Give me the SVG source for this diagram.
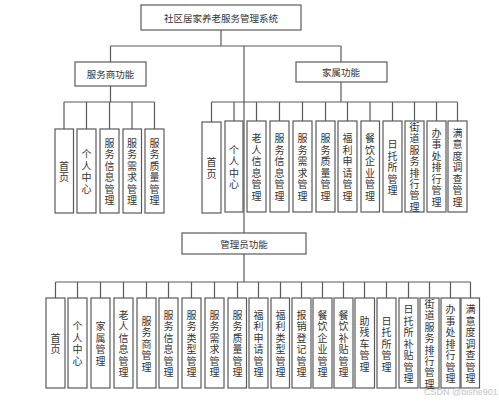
<svg xmlns="http://www.w3.org/2000/svg" width="499" height="401" viewBox="0 0 499 401">
<style>
.bg{fill:#fff}
.box{fill:#fff;stroke:#5a5a5a;stroke-width:1.2}
.ln{fill:none;stroke:#5a5a5a;stroke-width:1.2}
.h{font-family:"Noto Sans CJK SC","Liberation Sans",sans-serif;font-size:9.5px;fill:#333;text-anchor:middle;dominant-baseline:central}
.v{font-family:"Noto Sans CJK SC","Liberation Sans",sans-serif;font-size:10px;fill:#333;text-anchor:middle;dominant-baseline:central}
.wm{font-family:"Liberation Sans",sans-serif;font-size:9px;fill:#c4c4c4}
</style>
<rect class="bg" x="0" y="0" width="499" height="401"/>
<g id="connectors">
<path class="ln" d="M221 30V46M110.5 46H341M110.5 46V62M341 46V62M244 46V233"/>
<path class="ln" d="M110.5 86V102M64 102H154.5M64 102V129M86.5 102V129M109.5 102V129M132 102V129M154.5 102V129"/>
<path class="ln" d="M341 82V102M211.5 102H457.5M211.5 102V122M234 102V121M256.5 102V121M279.5 102V121M302.5 102V121M325.5 102V121M347.5 102V121M370 102V121M392.5 102V121M414.5 102V121M436.5 102V121M457.5 102V121"/>
<path class="ln" d="M244 254V282M55.5 282H470.5M55.5 282V298M77.5 282V298M100.5 282V298M123.5 282V298M146.5 282V298M168.5 282V298M191.5 282V298M214.5 282V298M237.5 282V298M258.5 282V298M280.5 282V298M301.5 282V298M322.5 282V298M343.5 282V298M364.5 282V298M386.5 282V298M408.5 282V298M429.5 282V298M450.5 282V298M470.5 282V298"/>
</g>
<g id="root"><rect class="box" x="141" y="5" width="160" height="25"/><text class="h" x="221" y="17.5">社区居家养老服务管理系统</text></g>
<g id="provider"><rect class="box" x="75" y="62" width="71" height="24"/><text class="h" x="110.5" y="74">服务商功能</text></g>
<g id="family"><rect class="box" x="296" y="62" width="91" height="20"/><text class="h" x="341" y="72">家属功能</text></g>
<g id="admin"><rect class="box" x="182" y="233" width="124" height="21"/><text class="h" x="244" y="243.5">管理员功能</text></g>

<g id="p1"><rect class="box" x="55" y="129" width="18.5" height="84"/><text class="v" x="64 64" y="165.25 176.75">首页</text></g>
<g id="p2"><rect class="box" x="77" y="129" width="19" height="84"/><text class="v" x="86.5 86.5 86.5 86.5" y="153.75 165.25 176.75 188.25">个人中心</text></g>
<g id="p3"><rect class="box" x="100" y="129" width="19" height="84"/><text class="v" x="109.5 109.5 109.5 109.5 109.5 109.5" y="142.25 153.75 165.25 176.75 188.25 199.75">服务信息管理</text></g>
<g id="p4"><rect class="box" x="123" y="129" width="18.5" height="84"/><text class="v" x="132 132 132 132 132 132" y="142.25 153.75 165.25 176.75 188.25 199.75">服务需求管理</text></g>
<g id="p5"><rect class="box" x="145" y="129" width="19" height="84"/><text class="v" x="154.5 154.5 154.5 154.5 154.5 154.5" y="142.25 153.75 165.25 176.75 188.25 199.75">服务质量管理</text></g>

<g id="f1"><rect class="box" x="202" y="122" width="19" height="91"/><text class="v" x="211.5 211.5" y="161.75 173.25">首页</text></g>
<g id="f2"><rect class="box" x="225" y="121" width="18" height="91"/><text class="v" x="234 234 234 234" y="149.25 160.75 172.25 183.75">个人中心</text></g>
<g id="f3"><rect class="box" x="247" y="121" width="19" height="91"/><text class="v" x="256.5 256.5 256.5 256.5 256.5 256.5" y="137.75 149.25 160.75 172.25 183.75 195.25">老人信息管理</text></g>
<g id="f4"><rect class="box" x="270" y="121" width="19" height="91"/><text class="v" x="279.5 279.5 279.5 279.5 279.5 279.5" y="137.75 149.25 160.75 172.25 183.75 195.25">服务信息管理</text></g>
<g id="f5"><rect class="box" x="293" y="121" width="19" height="91"/><text class="v" x="302.5 302.5 302.5 302.5 302.5 302.5" y="137.75 149.25 160.75 172.25 183.75 195.25">服务需求管理</text></g>
<g id="f6"><rect class="box" x="316" y="121" width="19" height="91"/><text class="v" x="325.5 325.5 325.5 325.5 325.5 325.5" y="137.75 149.25 160.75 172.25 183.75 195.25">服务质量管理</text></g>
<g id="f7"><rect class="box" x="338" y="121" width="19" height="91"/><text class="v" x="347.5 347.5 347.5 347.5 347.5 347.5" y="137.75 149.25 160.75 172.25 183.75 195.25">福利申请管理</text></g>
<g id="f8"><rect class="box" x="361" y="121" width="18.5" height="91"/><text class="v" x="370 370 370 370 370 370" y="137.75 149.25 160.75 172.25 183.75 195.25">餐饮企业管理</text></g>
<g id="f9"><rect class="box" x="383" y="121" width="19" height="91"/><text class="v" x="392.5 392.5 392.5 392.5 392.5" y="143.5 155 166.5 178 189.5">日托所管理</text></g>
<g id="f10"><rect class="box" x="405" y="121" width="19" height="91"/><text class="v" x="414.5 414.5 414.5 414.5 414.5 414.5 414.5 414.5" y="126.5 137.9 149.3 160.7 172.1 183.5 194.9 206.3">街道服务排行管理</text></g>
<g id="f11"><rect class="box" x="427" y="121" width="19" height="91"/><text class="v" x="436.5 436.5 436.5 436.5 436.5 436.5 436.5" y="132 143.5 155 166.5 178 189.5 201">办事处排行管理</text></g>
<g id="f12"><rect class="box" x="448" y="121" width="19" height="91"/><text class="v" x="457.5 457.5 457.5 457.5 457.5 457.5 457.5" y="132 143.5 155 166.5 178 189.5 201">满意度调查管理</text></g>

<g id="a1"><rect class="box" x="46" y="298" width="19" height="90"/><text class="v" x="55.5 55.5" y="337.25 348.75">首页</text></g>
<g id="a2"><rect class="box" x="68" y="298" width="19" height="90"/><text class="v" x="77.5 77.5 77.5 77.5" y="325.75 337.25 348.75 360.25">个人中心</text></g>
<g id="a3"><rect class="box" x="91" y="298" width="19" height="90"/><text class="v" x="100.5 100.5 100.5 100.5" y="325.75 337.25 348.75 360.25">家属管理</text></g>
<g id="a4"><rect class="box" x="114" y="298" width="19" height="90"/><text class="v" x="123.5 123.5 123.5 123.5 123.5 123.5" y="314.25 325.75 337.25 348.75 360.25 371.75">老人信息管理</text></g>
<g id="a5"><rect class="box" x="137" y="298" width="19" height="90"/><text class="v" x="146.5 146.5 146.5 146.5 146.5" y="320 331.5 343 354.5 366">服务商管理</text></g>
<g id="a6"><rect class="box" x="159" y="298" width="19" height="90"/><text class="v" x="168.5 168.5 168.5 168.5 168.5 168.5" y="314.25 325.75 337.25 348.75 360.25 371.75">服务信息管理</text></g>
<g id="a7"><rect class="box" x="182" y="298" width="19" height="90"/><text class="v" x="191.5 191.5 191.5 191.5 191.5 191.5" y="314.25 325.75 337.25 348.75 360.25 371.75">服务类型管理</text></g>
<g id="a8"><rect class="box" x="205" y="298" width="19" height="90"/><text class="v" x="214.5 214.5 214.5 214.5 214.5 214.5" y="314.25 325.75 337.25 348.75 360.25 371.75">服务需求管理</text></g>
<g id="a9"><rect class="box" x="228" y="298" width="18.5" height="90"/><text class="v" x="237.5 237.5 237.5 237.5 237.5 237.5" y="314.25 325.75 337.25 348.75 360.25 371.75">服务质量管理</text></g>
<g id="a10"><rect class="box" x="249" y="298" width="19" height="90"/><text class="v" x="258.5 258.5 258.5 258.5 258.5 258.5" y="314.25 325.75 337.25 348.75 360.25 371.75">福利申请管理</text></g>
<g id="a11"><rect class="box" x="271" y="298" width="18.5" height="90"/><text class="v" x="280.5 280.5 280.5 280.5 280.5 280.5" y="314.25 325.75 337.25 348.75 360.25 371.75">福利类型管理</text></g>
<g id="a12"><rect class="box" x="292" y="298" width="19" height="90"/><text class="v" x="301.5 301.5 301.5 301.5 301.5 301.5" y="314.25 325.75 337.25 348.75 360.25 371.75">报销登记管理</text></g>
<g id="a13"><rect class="box" x="313" y="298" width="19" height="90"/><text class="v" x="322.5 322.5 322.5 322.5 322.5 322.5" y="314.25 325.75 337.25 348.75 360.25 371.75">餐饮企业管理</text></g>
<g id="a14"><rect class="box" x="334" y="298" width="19" height="90"/><text class="v" x="343.5 343.5 343.5 343.5 343.5 343.5" y="314.25 325.75 337.25 348.75 360.25 371.75">餐饮补贴管理</text></g>
<g id="a15"><rect class="box" x="355" y="298" width="19.5" height="90"/><text class="v" x="364.5 364.5 364.5 364.5 364.5" y="320 331.5 343 354.5 366">助残车管理</text></g>
<g id="a16"><rect class="box" x="377" y="298" width="19" height="90"/><text class="v" x="386.5 386.5 386.5 386.5 386.5" y="320 331.5 343 354.5 366">日托所管理</text></g>
<g id="a17"><rect class="box" x="399" y="298" width="19" height="90"/><text class="v" x="408.5 408.5 408.5 408.5 408.5 408.5 408.5" y="308.5 320 331.5 343 354.5 366 377.5">日托所补贴管理</text></g>
<g id="a18"><rect class="box" x="420" y="298" width="19" height="90"/><text class="v" x="429.5 429.5 429.5 429.5 429.5 429.5 429.5 429.5" y="303.5 314.9 326.3 337.7 349.1 360.5 371.9 383.3">街道服务排行管理</text></g>
<g id="a19"><rect class="box" x="441" y="298" width="19" height="90"/><text class="v" x="450.5 450.5 450.5 450.5 450.5 450.5 450.5" y="308.5 320 331.5 343 354.5 366 377.5">办事处排行管理</text></g>
<g id="a20"><rect class="box" x="461" y="298" width="18.5" height="90"/><text class="v" x="470.5 470.5 470.5 470.5 470.5 470.5 470.5" y="308.5 320 331.5 343 354.5 366 377.5">满意度调查管理</text></g>

<text class="wm" x="424" y="395">CSDN @bishe901</text>
</svg>
